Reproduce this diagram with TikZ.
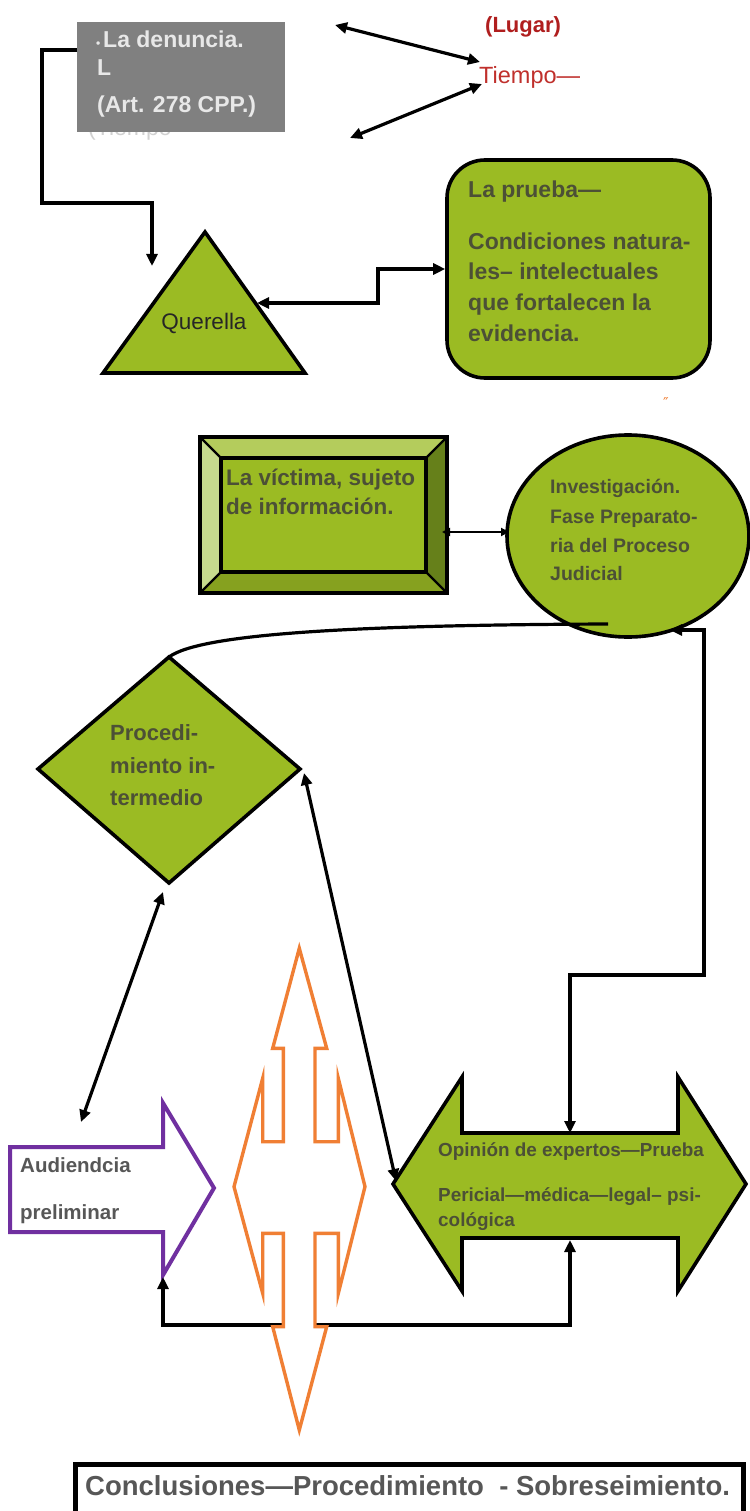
\documentclass[tikz,border=0pt]{standalone}
\usepackage{fontspec}
\setmainfont{Liberation Sans}
\newfontfamily\djv{DejaVu Sans}
\usetikzlibrary{arrows.meta,shapes.geometric}
\definecolor{grn}{HTML}{9BBB23}
\definecolor{boxgray}{HTML}{808080}
\definecolor{gtx}{HTML}{4C5036}
\definecolor{bvtop}{HTML}{B4CC5C}
\definecolor{bvleft}{HTML}{C6DA8E}
\definecolor{bvright}{HTML}{66801A}
\definecolor{bvbot}{HTML}{86A11F}
\definecolor{lugarred}{HTML}{B01E1E}
\definecolor{tiemred}{HTML}{C0302C}
\definecolor{orng}{HTML}{F07F34}
\definecolor{purp}{HTML}{7030A0}
\definecolor{gtext}{HTML}{575757}
\begin{document}
\begin{tikzpicture}[x=1pt,y=-1pt,
  >={Triangle[length=12pt,width=11pt]},
  conn/.style={line width=3.2pt,line join=miter},
  shp/.style={draw=black,line width=3.6pt,fill=grn,line join=miter},
  lbl/.style={anchor=base west,inner sep=0pt},
  bsz/.style={font=\bfseries\fontsize{#1}{#1}\selectfont},
  rsz/.style={font=\fontsize{#1}{#1}\selectfont}]
\useasboundingbox (0,0) rectangle (749,1511);
\fill[white] (0,0) rectangle (749,1511);

% ---------- top: denuncia ----------
\node[lbl,rsz=23,text=black!18] (ghost) at (88,136) {(Tiempo};
\node[fill=boxgray,inner sep=0pt,minimum width=208pt,minimum height=110pt,anchor=north west] (den) at (77,22) {};
\node[lbl,bsz=12,text=black!9] (den0) at (96,48) {•};
\node[lbl,bsz=23,text=black!9] (den1) at (103,48) {La denuncia.};
\node[lbl,bsz=23,text=black!9] (den2) at (97,76) {L};
\node[lbl,bsz=23,text=black!9] (den3) at (97,113) {(Art. 278 CPP.)};

\node[lbl,bsz=22,text=lugarred] (lugar) at (485,33) {(Lugar)};
\node[lbl,rsz=23.5,text=tiemred] (tiempo) at (479,84) {Tiempo—};

\coordinate (a1) at (335,25);
\coordinate (t1) at (480,62);
\coordinate (a2) at (350,138);
\coordinate (t2) at (482,84);
\draw[conn,<->] (a1) -- (t1);
\draw[conn,<->] (a2) -- (t2);

% ---------- querella ----------
\coordinate (qA) at (205,232);
\coordinate (qL) at (103,373);
\coordinate (qR) at (305,373);
\draw[shp] (qA) -- (qL) -- (qR) -- cycle;
\node[anchor=base,inner sep=0pt,rsz=22.5,text=black!85] (quer) at (204,330) {Querella};

\coordinate (denL) at (77,50);
\coordinate (qtop) at (152,266);
\draw[conn,->] (denL) -| (42,203) -| (qtop);

% ---------- la prueba ----------
\node[shp,rounded corners=38pt,minimum width=263pt,minimum height=218pt,inner sep=0pt] (prueba) at (578.5,269) {};
\node[lbl,bsz=23,text=gtx] (pr0) at (468,198) {La prueba—};
\node[lbl,bsz=23,text=gtx] (pr1) at (468,250) {Condiciones natura-};
\node[lbl,bsz=23,text=gtx] (pr2) at (468,280) {les– intelectuales};
\node[lbl,bsz=23,text=gtx] (pr3) at (468,310) {que fortalecen la};
\node[lbl,bsz=23,text=gtx] (pr4) at (468,341) {evidencia.};

\coordinate (qRt) at (257,303);
\draw[conn,<->] (prueba.west) -- (378,269) -- (378,303) -- (qRt);

\node[lbl,text=orng,font=\djv\fontsize{15}{15}\selectfont] (mark) at (663,408) {″};

% ---------- victima (bevel) ----------
\fill[grn] (221,458) rectangle (426,572);
\fill[bvtop] (200,437) -- (447,437) -- (426,458) -- (221,458) -- cycle;
\fill[bvleft] (200,437) -- (221,458) -- (221,572) -- (200,593) -- cycle;
\fill[bvright] (447,437) -- (447,593) -- (426,572) -- (426,458) -- cycle;
\fill[bvbot] (200,593) -- (447,593) -- (426,572) -- (221,572) -- cycle;
\draw[line width=2.4pt] (200,437) -- (221,458) (447,437) -- (426,458) (200,593) -- (221,572) (447,593) -- (426,572);
\draw[line width=3.4pt] (221,458) rectangle (426,572);
\draw[line width=3.6pt] (200,437) rectangle (447,593);
\node[inner sep=0pt,minimum width=247pt,minimum height=156pt] (vic) at (323.5,515) {};
\node[lbl,bsz=22.5,text=gtx] (vic1) at (226,485) {La víctima, sujeto};
\node[lbl,bsz=22.5,text=gtx] (vic2) at (226,514) {de información.};

% ---------- investigacion ----------
\node[ellipse,shp,minimum width=242pt,minimum height=202pt,inner sep=0pt] (inv) at (628,536) {};
\node[lbl,bsz=19.5,text=gtx] (inv1) at (550,493) {Investigación.};
\node[lbl,bsz=19.5,text=gtx] (inv2) at (550,523) {Fase Preparato-};
\node[lbl,bsz=19.5,text=gtx] (inv3) at (550,552) {ria del Proceso};
\node[lbl,bsz=19.5,text=gtx] (inv4) at (550,580) {Judicial};

\coordinate (vicR) at (442,532);
\coordinate (invL) at (509,532);
\draw[line width=2.6pt,{Triangle[length=8pt,width=8pt]}-{Triangle[length=8pt,width=8pt]}] (vicR) -- (invL);

% ---------- procedimiento intermedio ----------
\coordinate (dTop) at (169,657);
\coordinate (dL) at (38,769);
\coordinate (dB) at (169,883);
\coordinate (dR) at (300,769);
\draw[shp] (dTop) -- (dL) -- (dB) -- (dR) -- cycle;
\node[lbl,bsz=22,text=gtx] (pro1) at (110,740) {Procedi-};
\node[lbl,bsz=22,text=gtx] (pro2) at (110,773) {miento in-};
\node[lbl,bsz=22,text=gtx] (pro3) at (110,805) {termedio};

\coordinate (cvS) at (608,624);
\draw[conn] (cvS) .. controls (350,625) and (200,634) .. (dTop);

% ---------- green double arrow ----------
\draw[shp] (393,1184) -- (462,1077) -- (462,1133) -- (678,1133) -- (678,1077) -- (746,1184)
  -- (678,1291) -- (678,1238) -- (462,1238) -- (462,1291) -- cycle;
\node[inner sep=0pt,minimum width=353pt,minimum height=214pt] (ga) at (569.5,1184) {};
\node[lbl,bsz=18.9,text=gtx] (op1) at (438,1156) {Opinión de expertos—Prueba};
\node[lbl,bsz=18.9,text=gtx] (op2) at (438,1201) {Pericial—médica—legal– psi-};
\node[lbl,bsz=18.9,text=gtx] (op3) at (438,1226) {cológica};

% ---------- purple arrow ----------
\draw[draw=purp,line width=4pt,fill=white,line join=miter] (10,1147) -- (163,1147) -- (163,1103) -- (214,1188)
  -- (163,1275) -- (163,1232) -- (10,1232) -- cycle;
\node[inner sep=0pt,minimum width=204pt,minimum height=172pt] (pa) at (112,1189) {};
\node[lbl,bsz=20.5,text=gtext] (au1) at (20,1172) {Audiendcia};
\node[lbl,bsz=20.5,text=gtext] (au2) at (20,1219) {preliminar};

% ---------- connectors ----------
\coordinate (dBa) at (163,892);
\coordinate (paTop) at (81,1122);
\draw[conn,<->] (dBa) -- (paTop);
\coordinate (dRa) at (304,773);
\coordinate (gaL) at (396,1181);
\draw[conn,<->] (dRa) -- (gaL);

\coordinate (invBR) at (670,630);
\coordinate (gaTop) at (570,1133);
\draw[conn,<->] (invBR) -- (704,630) -- (704,975) -- (570,975) -- (gaTop);

\coordinate (paBot) at (163,1277);
\coordinate (gaBot) at (570,1240);
\draw[conn,<->] (paBot) -- (163,1325) -- (570,1325) -- (gaBot);

% ---------- orange four-way arrow ----------
\draw[draw=orng,line width=3.4pt,fill=white,line join=miter]
  (299.3,948.3) -- (272.7,1048.3) -- (283.3,1048.3) -- (283.3,1141.7) -- (262.7,1141.7)
  -- (262.7,1078.3) -- (234,1186.7) -- (262.7,1293.3) -- (262.7,1233.3) -- (283.3,1233.3)
  -- (283.3,1326.7) -- (272.7,1326.7) -- (299.3,1430) -- (326.7,1326.7) -- (315,1326.7)
  -- (315,1233.3) -- (338.3,1233.3) -- (338.3,1293.3) -- (365,1186.7) -- (338.3,1078.3)
  -- (338.3,1141.7) -- (315,1141.7) -- (315,1048.3) -- (326.7,1048.3) -- cycle;

% ---------- conclusions ----------
\node[draw,line width=4.5pt,minimum width=668pt,minimum height=70pt,anchor=north west,inner sep=0pt] (concl) at (73,1462) {};
\node[lbl,bsz=27.5,text=gtext] (conclt) at (85,1495) {Conclusiones—Procedimiento\ \ - Sobreseimiento.};
\end{tikzpicture}
\end{document}
